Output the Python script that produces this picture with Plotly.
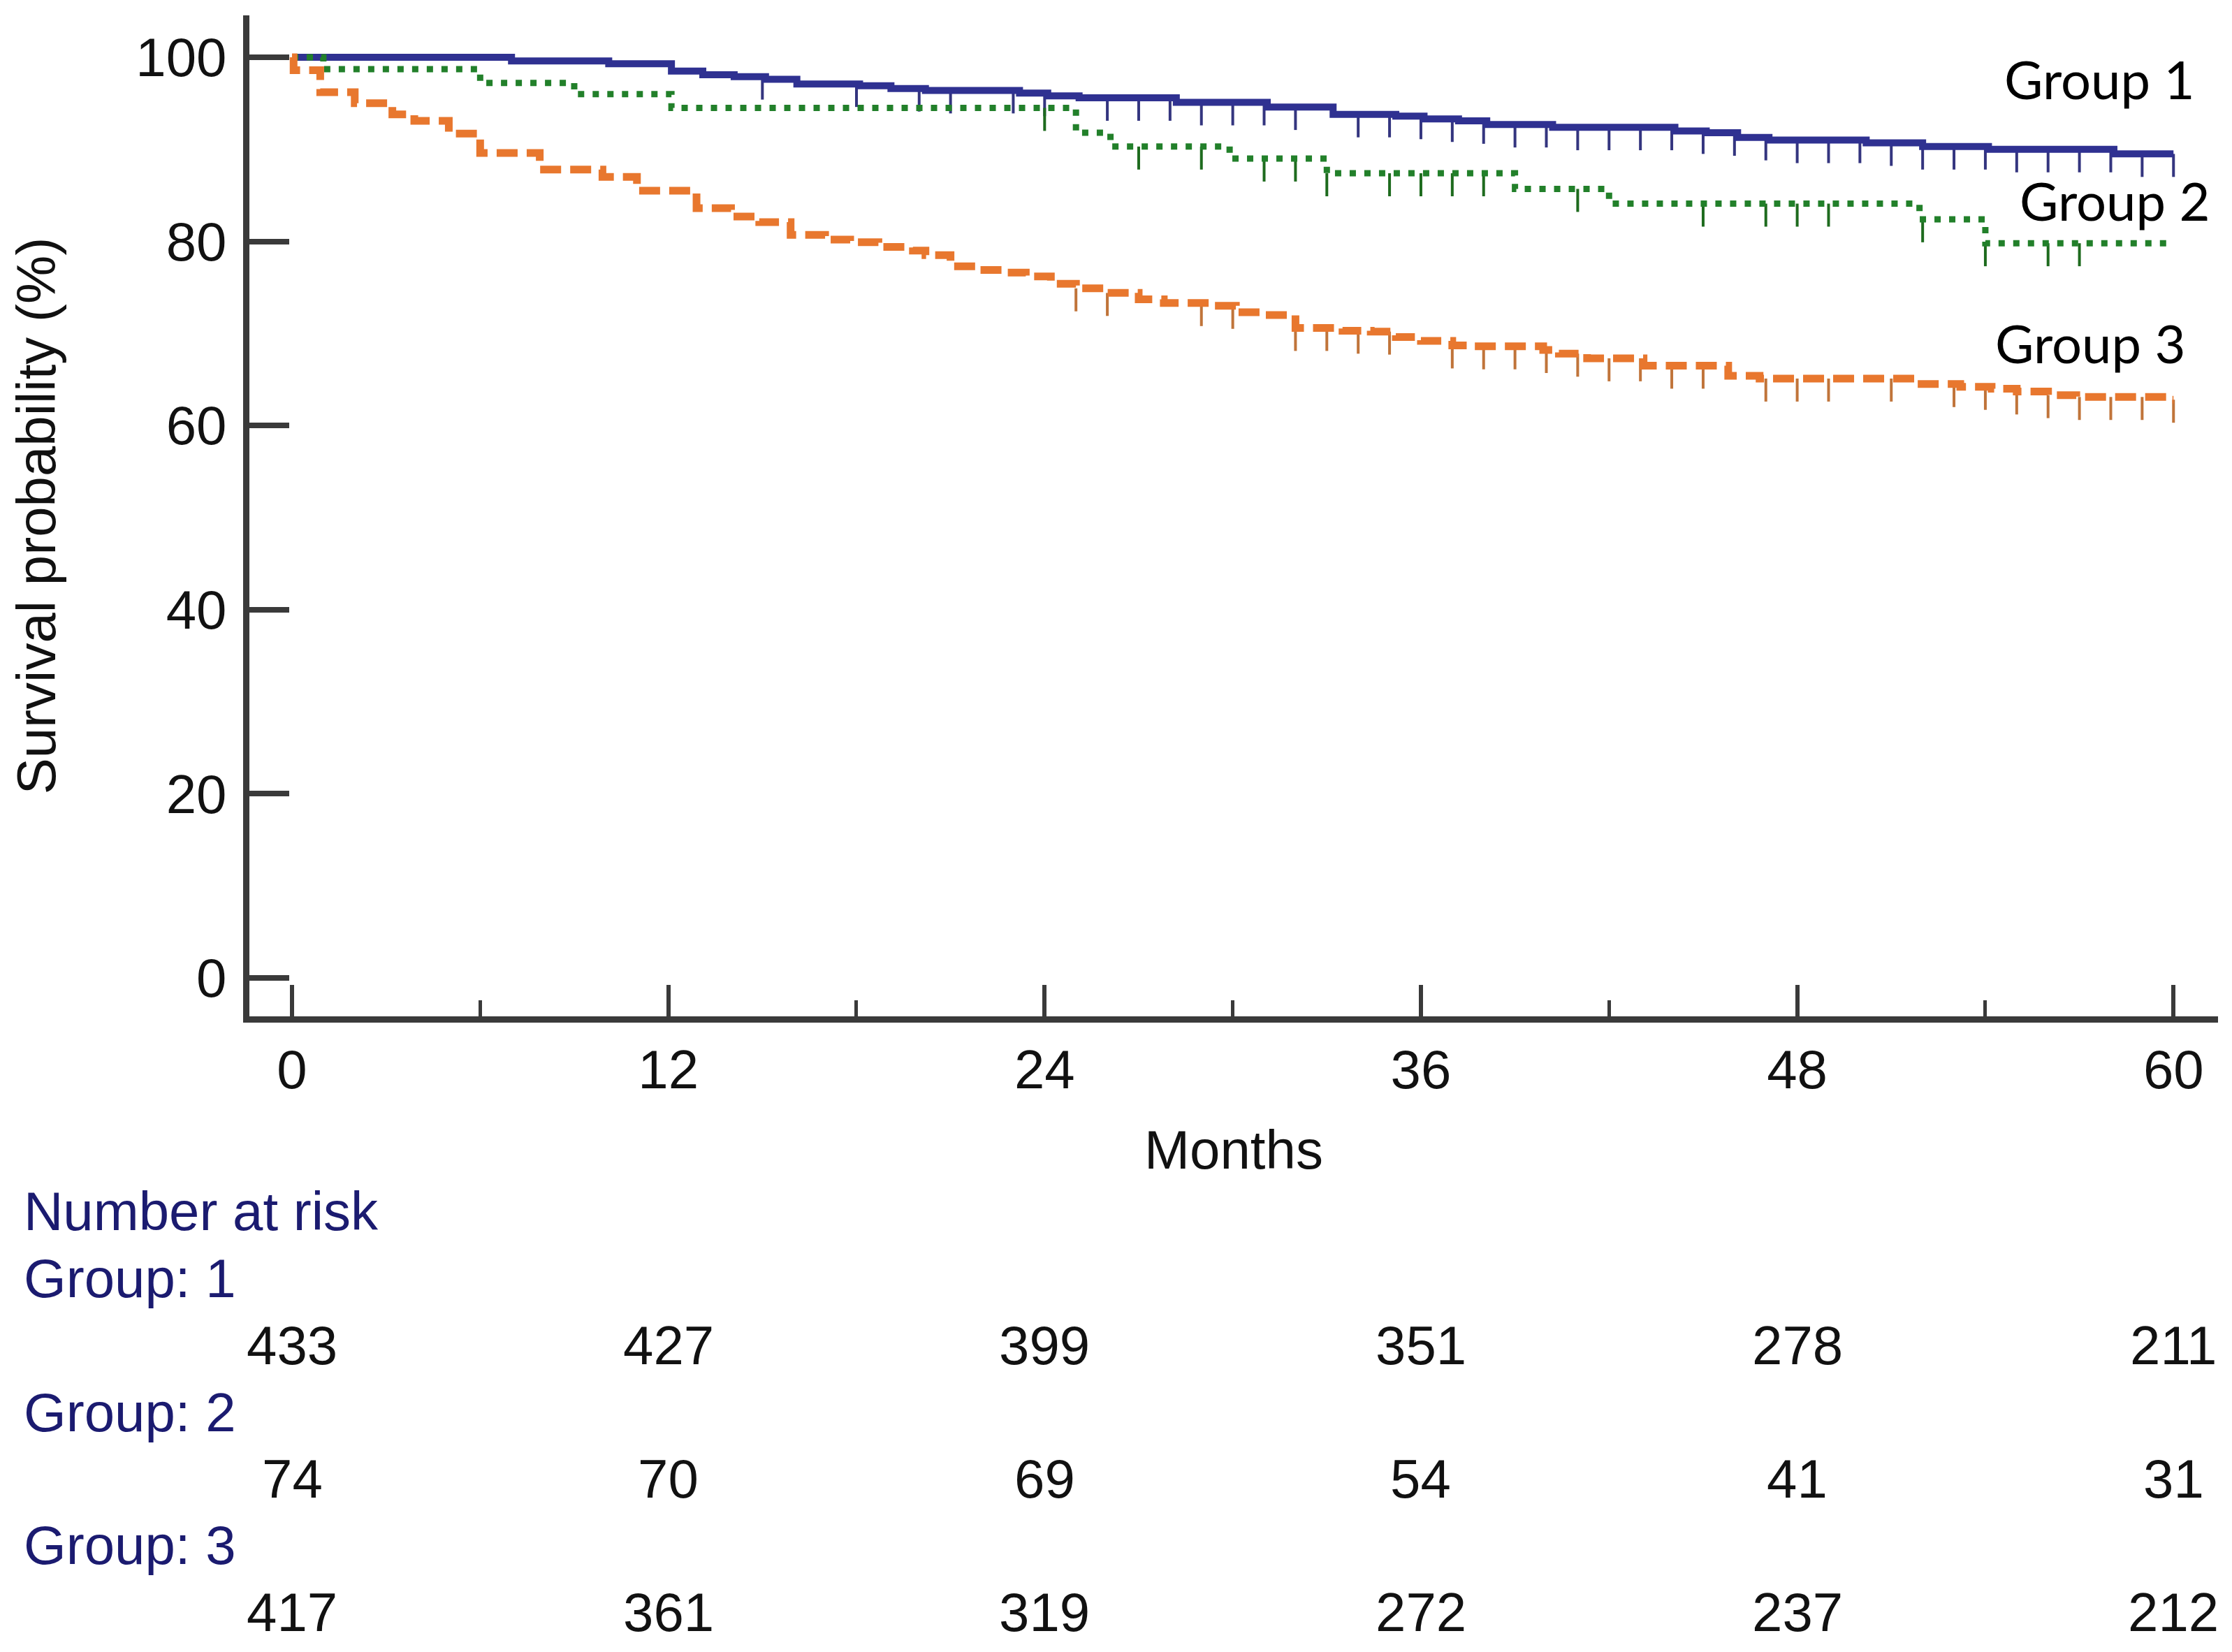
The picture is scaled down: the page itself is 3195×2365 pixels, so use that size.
import plotly.graph_objects as go

# ---------------- data ----------------
g1_time = [0, 7.0, 10.1, 12.1, 13.1, 14.1, 15.1, 16.1, 18.1, 19.1, 20.2, 23.2, 24.1, 25.1, 28.2,
           31.1, 33.2, 35.2, 36.1, 37.2, 38.1, 40.2, 44.1, 45.1, 46.1, 47.1, 50.2, 52.0, 54.1, 58.1, 60]
g1_surv = [100, 99.6, 99.3, 98.5, 98.1, 97.9, 97.6, 97.1, 96.9, 96.6, 96.4, 96.1, 95.8, 95.6, 95.1,
           94.6, 93.8, 93.6, 93.3, 93.1, 92.7, 92.4, 92.0, 91.8, 91.3, 91.0, 90.7, 90.3, 90.0, 89.5, 89.5]
g1_censor = [15, 18, 20, 21, 23, 24, 26, 27, 28, 29, 30, 31, 32, 34, 35, 36, 37, 38, 39, 40, 41, 42,
             43, 44, 45, 46, 47, 48, 49, 50, 51, 52, 53, 54, 55, 56, 57, 58, 59, 60]

g2_time = [0, 1.0, 6.0, 9.0, 12.1, 25.0, 26.1, 29.9, 33.0, 39.0, 42.0, 51.9, 54.0, 60]
g2_surv = [100, 98.7, 97.2, 96.0, 94.5, 91.8, 90.3, 89.0, 87.4, 85.7, 84.1, 82.4, 79.8, 79.8]
g2_censor = [24, 27, 29, 31, 32, 33, 35, 36, 37, 38, 41, 45, 47, 48, 49, 52, 54, 56, 57]

g3_time = [0, 0.05, 0.9, 2.0, 3.2, 3.9, 5.0, 6.0, 7.9, 9.9, 11.0, 12.9, 14.0, 14.9, 15.9, 17.0,
           17.8, 18.7, 19.8, 20.2, 21.0, 21.8, 22.8, 23.4, 24.2, 25.0, 26.0, 27.0, 27.8, 29.4, 30.1,
           31.0, 32.0, 33.5, 34.4, 35.2, 36.0, 37.0, 37.6, 39.9, 40.4, 41.3, 43.1, 45.8, 46.8, 51.8,
           53.2, 54.2, 55.0, 56.0, 56.9, 59.8, 60]
g3_surv = [100, 98.6, 96.2, 95.0, 93.8, 93.1, 91.7, 89.6, 87.8, 87.0, 85.5, 83.6, 82.7, 82.1, 80.7, 80.2,
           79.9, 79.4, 79.0, 78.5, 77.3, 76.9, 76.6, 76.2, 75.4, 74.9, 74.4, 73.7, 73.3, 73.0, 72.3,
           72.0, 70.6, 70.3, 70.2, 69.6, 69.2, 68.7, 68.6, 68.2, 67.8, 67.3, 66.5, 65.4, 65.1, 64.5,
           64.2, 64.0, 63.7, 63.3, 63.1, 62.8, 62.8]
g3_censor = [25, 26, 29, 30, 32, 33, 34, 35, 37, 38, 39, 40, 41, 42, 43, 44, 45, 47, 48, 49, 51,
             53, 54, 55, 56, 57, 58, 59, 60]

x_ticks = [0, 12, 24, 36, 48, 60]
y_ticks = [0, 20, 40, 60, 80, 100]
risk_months = [0, 12, 24, 36, 48, 60]
risk_g1 = [433, 427, 399, 351, 278, 211]
risk_g2 = [74, 70, 69, 54, 41, 31]
risk_g3 = [417, 361, 319, 272, 237, 212]
group_names = ["Group 1", "Group 2", "Group 3"]
risk_labels = ["Group: 1", "Group: 2", "Group: 3"]

# ---------------- style ----------------
W, H = 3195, 2365
ML, MR, MT, MB = 357, 20, 22, 910
PLOT_H = H - MT - MB
C1, C2, C3 = "#2f3191", "#22802a", "#e8772e"
T1, T2, T3 = "#34357f", "#1e6b1e", "#c0743a"
AXIS = "#3a3a3a"
NAVY = "#1b1b70"
TXT = "#111111"
FONT = "Liberation Sans, Arial, sans-serif"
TICK_LEN = 2.5


def level_at(times, surv, t):
    v = surv[0]
    for tt, s in zip(times, surv):
        if tt <= t:
            v = s
        else:
            break
    return v


def censor_xy(times, surv, cens):
    xs, ys = [], []
    for c in cens:
        lv = level_at(times, surv, c)
        xs += [c, c, None]
        ys += [lv, lv - TICK_LEN, None]
    return xs, ys


fig = go.Figure()

series = [
    (g1_time, g1_surv, g1_censor, C1, T1, 10, "solid"),
    (g2_time, g2_surv, g2_censor, C2, T2, 9, "9px,12px"),
    (g3_time, g3_surv, g3_censor, C3, T3, 11, "30px,13px"),
]
for i, (t, s, c, col, tcol, lw, dash) in enumerate(series):
    cx, cy = censor_xy(t, s, c)
    fig.add_trace(go.Scatter(x=cx, y=cy, mode="lines", line=dict(color=tcol, width=4),
                             showlegend=False, hoverinfo="skip"))
for i, (t, s, c, col, tcol, lw, dash) in enumerate(series):
    fig.add_trace(go.Scatter(x=t, y=s, mode="lines", line=dict(color=col, width=lw, dash=dash, shape="hv"),
                             name=group_names[i], showlegend=False))

# group labels
lab_pos = [(57.65, 97.7), (58.14, 84.45), (57.36, 69.04)]
annotations = []
for name, (lx, ly) in zip(group_names, lab_pos):
    annotations.append(dict(x=lx, y=ly, xref="x", yref="y", text=name, showarrow=False,
                            font=dict(family="Lato, Open Sans, sans-serif", size=76, color="#000000"),
                            xanchor="center", yanchor="middle"))


def py(Y):
    return (H - MB - Y) / PLOT_H


lab_x = (32 - ML) / (W - ML - MR)
annotations.append(dict(x=lab_x, y=py(1734), xref="paper", yref="paper", text="Number at risk",
                        showarrow=False, xanchor="left", yanchor="middle",
                        font=dict(family=FONT, size=78, color=NAVY)))
rows = [(risk_labels[0], risk_g1, 1830, 1926), (risk_labels[1], risk_g2, 2022, 2117),
        (risk_labels[2], risk_g3, 2212, 2308)]
for lab, vals, ylab, yrow in rows:
    annotations.append(dict(x=lab_x, y=py(ylab), xref="paper", yref="paper", text=lab,
                            showarrow=False, xanchor="left", yanchor="middle",
                            font=dict(family=FONT, size=78, color=NAVY)))
    for m, v in zip(risk_months, vals):
        annotations.append(dict(x=m, y=py(yrow), xref="x", yref="paper", text=str(v),
                                showarrow=False, xanchor="center", yanchor="middle",
                                font=dict(family=FONT, size=78, color=TXT)))

fig.update_layout(
    width=W, height=H,
    margin=dict(l=ML, r=MR, t=MT, b=MB),
    paper_bgcolor="white", plot_bgcolor="white",
    annotations=annotations,
    xaxis=dict(range=[-1.359, 61.42], tickvals=x_ticks, ticktext=[str(v) for v in x_ticks],
               ticks="inside", ticklen=45, tickwidth=6, tickcolor=AXIS,
               showline=True, linecolor=AXIS, linewidth=9, showgrid=False, zeroline=False,
               tickfont=dict(family=FONT, size=78, color=TXT), ticklabelstandoff=0,
               minor=dict(dtick=6, tick0=0, ticks="inside", ticklen=23, tickwidth=5, tickcolor=AXIS, showgrid=False),
               title=dict(text="Months", font=dict(family=FONT, size=78, color=TXT), standoff=48)),
    yaxis=dict(range=[-4.18, 104.55], tickvals=y_ticks, ticktext=[str(v) for v in y_ticks],
               ticks="inside", ticklen=57, tickwidth=8, tickcolor=AXIS,
               showline=True, linecolor=AXIS, linewidth=9, showgrid=False, zeroline=False,
               tickfont=dict(family=FONT, size=78, color=TXT), ticklabelstandoff=8,
               title=dict(text="Survival probability (%)", font=dict(family=FONT, size=78, color=TXT), standoff=92)),
)

fig.write_html("out.html", config={"displayModeBar": False},
               post_script="document.body.style.margin='0';document.body.style.overflow='hidden';")
